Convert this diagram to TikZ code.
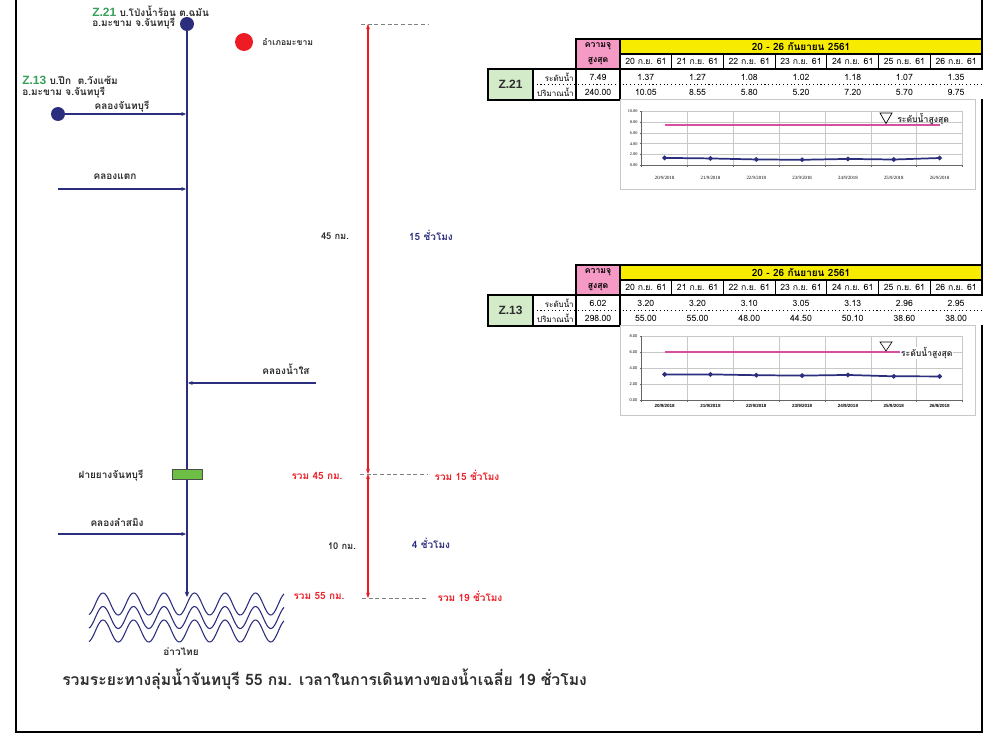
\documentclass[tikz,border=0pt]{standalone}
\usepackage{fontspec}
\setmainfont{Liberation Sans}
\newfontfamily\thai[Script=Thai]{Loma}
\newfontfamily\serifx{Liberation Serif}
\usetikzlibrary{arrows.meta,shapes.geometric}
\definecolor{navy}{RGB}{43,46,125}
\definecolor{rred}{RGB}{237,28,36}
\definecolor{zgreen}{RGB}{55,160,90}
\definecolor{weir}{RGB}{108,190,69}
\definecolor{pinkc}{RGB}{244,154,196}
\definecolor{yel}{RGB}{247,236,0}
\definecolor{lgreen}{RGB}{212,235,202}
\definecolor{mag}{RGB}{215,80,160}
\definecolor{txt}{RGB}{45,45,45}
\definecolor{gridc}{RGB}{200,200,200}
\begin{document}
\begin{tikzpicture}[x=0.75pt,y=-0.75pt,
  lbl/.style={font=\thai\bfseries\fontsize{7.5}{8}\selectfont,text=txt,inner sep=0},
  river/.style={draw=navy,line width=1.5pt,-{Stealth[length=4pt,width=3.5pt]}},
  trib/.style={draw=navy,line width=0.9pt,-{Stealth[length=3.5pt,width=3pt]}},
  dot/.style={circle,fill=navy,inner sep=0,minimum size=10.5pt},
  dist/.style={draw=rred,line width=0.8pt,{Stealth[length=4pt,width=3pt]}-{Stealth[length=4pt,width=3pt]}},
  gdash/.style={draw=gray,line width=0.6pt,dash pattern=on 3pt off 2pt},
  dtxt/.style={font=\thai\bfseries\fontsize{7}{8}\selectfont,text=txt,inner sep=0},
  ntxt/.style={font=\thai\bfseries\fontsize{7.5}{8}\selectfont,text=navy,inner sep=0},
  rtxt/.style={font=\thai\bfseries\fontsize{7.5}{8}\selectfont,text=rred,inner sep=0},
  tb/.style={draw=black,line width=1.5pt},
  tt/.style={font=\thai\fontsize{6.5}{7}\selectfont,inner sep=0},
  ttb/.style={font=\thai\bfseries\fontsize{6.5}{7}\selectfont,inner sep=0},
  grid/.style={draw=gridc,line width=0.4pt},
  axis/.style={draw=gray!80!black,line width=0.5pt},
  mk/.style={diamond,fill=navy,inner sep=0,minimum size=4pt},
  dline/.style={draw=navy,line width=1.3pt},
  capline/.style={draw=mag,line width=1pt}
]
\useasboundingbox (0,0) rectangle (988,734);
% frame
\draw[line width=1.5pt] (16,-5) -- (16,732) -- (982,732) -- (982,-5);

% river
\node[dot] (z21) at (187,24) {};
\coordinate (sea) at (187,597);
\draw[river] (z21) -- (sea);

\node[anchor=west,inner sep=0] (z21a) at (92,11) {\fontsize{9}{10}\selectfont\bfseries\color{zgreen}Z.21 \thai\fontsize{7.5}{8}\selectfont\color{txt}บ.โป่งน้ำร้อน ต.ฉมัน};
\node[lbl,anchor=west] (z21b) at (92,24) {อ.มะขาม จ.จันทบุรี};

\node[circle,fill=rred,inner sep=0,minimum size=13.5pt] (amp) at (244,42) {};
\node[lbl,anchor=west,font=\thai\bfseries\fontsize{6.5}{7}\selectfont] (ampl) at (262,42) {อำเภอมะขาม};

\node[anchor=west,inner sep=0] (z13a) at (22,80) {\fontsize{9}{10}\selectfont\bfseries\color{zgreen}Z.13 \thai\fontsize{7.5}{8}\selectfont\color{txt}บ.ปึก~~ต.วังแซ้ม};
\node[lbl,anchor=west] (z13b) at (22,93) {อ.มะขาม จ.จันทบุรี};

% tributaries
\node[dot] (z13) at (58,114) {};
\coordinate (j1) at (186,114);
\draw[trib] (z13) -- (j1);
\node[lbl] (l1) at (122,107) {คลองจันทบุรี};

\coordinate (k2s) at (58,189); \coordinate (k2e) at (186,189);
\draw[trib] (k2s) -- (k2e);
\node[lbl] (l2) at (115,177) {คลองแตก};

\coordinate (k3s) at (316,383); \coordinate (k3e) at (188,383);
\draw[trib] (k3s) -- (k3e);
\node[lbl] (l3) at (286,369) {คลองน้ำใส};

\coordinate (k4s) at (58,534); \coordinate (k4e) at (186,534);
\draw[trib] (k4s) -- (k4e);
\node[lbl] (l4) at (117,522) {คลองลำสมิง};

% weir
\node[draw=black!70,line width=0.6pt,fill=weir,minimum width=22.5pt,minimum height=8pt,inner sep=0] (weir) at (187,474.5) {};
\node[lbl] (wl) at (111,476) {ฝายยางจันทบุรี};

% sea waves
\foreach \c in {604,617.5,631}
  \draw[navy,line width=0.8pt,domain=89:284,samples=160,smooth] plot (\x,{\c-11*cos(11.803*(\x-103))});
\node[lbl] (gulf) at (181,652) {อ่าวไทย};

% distances
\coordinate (d0) at (368,24); \coordinate (d1) at (368,474); \coordinate (d2) at (368,598);
\draw[dist] (d1) -- (d0);
\draw[dist] (d1) -- (d2);
\coordinate (g0a) at (361,24); \coordinate (g0b) at (428,24);
\coordinate (g1a) at (360,474); \coordinate (g1b) at (428,474);
\coordinate (g2a) at (362,598); \coordinate (g2b) at (428,598);
\draw[gdash] (g0a) -- (g0b);
\draw[gdash] (g1a) -- (g1b);
\draw[gdash] (g2a) -- (g2b);

\node[dtxt] (t1) at (335,236) {45 กม.};
\node[ntxt] (t2) at (431,235) {15 ชั่วโมง};
\node[rtxt] (t3) at (317,476) {รวม 45 กม.};
\node[rtxt] (t4) at (467,475) {รวม 15 ชั่วโมง};
\node[dtxt] (t5) at (342,546) {10 กม.};
\node[ntxt] (t6) at (431,543) {4 ชั่วโมง};
\node[rtxt] (t7) at (319,596) {รวม 55 กม.};
\node[rtxt] (t8) at (470,596) {รวม 19 ชั่วโมง};

\node[inner sep=0,font=\thai\bfseries\fontsize{11.8}{13}\selectfont,text=txt,anchor=west] (total) at (62,679) {รวมระยะทางลุ่มน้ำจันทบุรี 55 กม. เวลาในการเดินทางของน้ำเฉลี่ย 19 ชั่วโมง};

% ---------- tables ----------
\newcommand\mktable[6]{%
\begin{scope}[shift={(0,#1)}]
  \fill[pinkc] (576,0) rectangle (620,30);
  \fill[yel] (620,0) rectangle (982,15);
  \fill[lgreen] (488,30) rectangle (533,61);
  \fill[white] (620,30) rectangle (988,60);
  \foreach \k in {1,...,6} \draw[black,line width=0.8pt] ({620+\k*51.71},15) -- ({620+\k*51.71},30);
  \draw[black,line width=0.8pt,dotted] (533,45.5) -- (982,45.5);
  \draw[tb] (576,0) rectangle (982,30);
  \draw[tb] (620,15) -- (982,15);
  \draw[tb] (620,0) -- (620,61);
  \draw[tb] (488,30) rectangle (533,61);
  \draw[tb] (533,30) rectangle (620,61);
  \draw[tb] (576,30) -- (576,61);
  \draw[tb] (533,30) -- (982,30);
  \node[ttb] at (598,7.5) {ความจุ};
  \node[ttb] at (598,22.5) {สูงสุด};
  \node[ttb,font=\thai\bfseries\fontsize{7.5}{8}\selectfont] at (801,7.5) {20 - 26 กันยายน 2561};
  \foreach \d [count=\i from 0] in {20,...,26}
    \node[tt] at ({645.86+\i*51.71},22.5) {\d\ ก.ย. 61};
  \node[inner sep=0,font=\bfseries\fontsize{9}{10}\selectfont,text=txt] at (510.5,45.5) {#2};
  \node[tt,anchor=east,font=\thai\fontsize{6}{7}\selectfont] at (574,38) {ระดับน้ำ};
  \node[tt,anchor=east,font=\thai\fontsize{6}{7}\selectfont] at (574,53) {ปริมาณน้ำ};
  \node[tt] at (598,38) {#3};
  \node[tt] at (598,53) {#4};
  \foreach \v [count=\i from 0] in {#5}
    \node[tt] at ({645.86+\i*51.71},38) {\v};
  \foreach \v [count=\i from 0] in {#6}
    \node[tt] at ({645.86+\i*51.71},53) {\v};
\end{scope}}

\mktable{39}{Z.21}{7.49}{240.00}{1.37,1.27,1.08,1.02,1.18,1.07,1.35}{10.05,8.55,5.80,5.20,7.20,5.70,9.75}
\mktable{265}{Z.13}{6.02}{298.00}{3.20,3.20,3.10,3.05,3.13,2.96,2.95}{55.00,55.00,48.00,44.50,50.10,38.60,38.00}

% ---------- charts ----------
\def\L{641.7}\def\R{962.5}\def\W{45.83}
% chart 1
\draw[gridc,line width=0.7pt] (620,99) rectangle (975,189);
\def\yz{165.3}\def\ys{5.4}
\foreach \v in {2,4,...,10} \draw[grid] (\L,{\yz-\v*\ys}) -- (\R,{\yz-\v*\ys});
\foreach \k in {1,...,7} \draw[grid] ({\L+\k*\W},{\yz-10*\ys}) -- ({\L+\k*\W},\yz);
\draw[axis] (\L,{\yz-10*\ys}) -- (\L,\yz) -- (\R,\yz);
\foreach \v/\t in {0/0.00,2/2.00,4/4.00,6/6.00,8/8.00,10/10.00} {
  \draw[axis] ({\L-2},{\yz-\v*\ys}) -- (\L,{\yz-\v*\ys});
  \node[inner sep=0,anchor=east,font=\serifx\fontsize{3.2}{3.5}\selectfont] at ({\L-4},{\yz-\v*\ys}) {\t};
}
\foreach \k in {0,...,7} \draw[axis] ({\L+\k*\W},\yz) -- ({\L+\k*\W},{\yz+2});
\foreach \d [count=\i from 0] in {20,...,26}
  \node[inner sep=0,font=\serifx\fontsize{3.6}{4}\selectfont] at ({\L+\W/2+\i*\W},177.7) {\d/9/2018};
\coordinate (ca0) at ({\L+\W/2},{\yz-7.49*\ys});
\coordinate (ca1) at ({\L+\W/2+6*\W},{\yz-7.49*\ys});
\draw[capline] (ca0) -- (ca1);
\foreach \v [count=\i from 0] in {1.37,1.27,1.08,1.02,1.18,1.07,1.35}
  \coordinate (pa\i) at ({\L+\W/2+\i*\W},{\yz-\v*\ys});
\draw[dline] (pa0)--(pa1)--(pa2)--(pa3)--(pa4)--(pa5)--(pa6);
\foreach \i in {0,...,6} \node[mk] at (pa\i) {};
\draw[line width=0.5pt] (880,113) -- (892,113) -- (886,123.5) -- cycle;
\node[lbl,anchor=west,font=\thai\bfseries\fontsize{6.5}{7}\selectfont] at (897,119) {ระดับน้ำสูงสุด};

% chart 2
\draw[gridc,line width=0.7pt] (620,325) rectangle (975,415);
\def\yz{400}\def\ys{8.0}
\foreach \v in {2,4,...,8} \draw[grid] (\L,{\yz-\v*\ys}) -- (\R,{\yz-\v*\ys});
\foreach \k in {1,...,7} \draw[grid] ({\L+\k*\W},{\yz-8*\ys}) -- ({\L+\k*\W},\yz);
\draw[axis] (\L,{\yz-8*\ys}) -- (\L,\yz) -- (\R,\yz);
\foreach \v/\t in {0/0.00,2/2.00,4/4.00,6/6.00,8/8.00} {
  \draw[axis] ({\L-2},{\yz-\v*\ys}) -- (\L,{\yz-\v*\ys});
  \node[inner sep=0,anchor=east,font=\fontsize{3}{3.5}\selectfont] at ({\L-4},{\yz-\v*\ys}) {\t};
}
\foreach \k in {0,...,7} \draw[axis] ({\L+\k*\W},\yz) -- ({\L+\k*\W},{\yz+2});
\foreach \d [count=\i from 0] in {20,...,26}
  \node[inner sep=0,font=\bfseries\fontsize{3.4}{4}\selectfont] at ({\L+\W/2+\i*\W},406) {\d/9/2018};
\coordinate (cb0) at ({\L+\W/2},{\yz-6.02*\ys});
\coordinate (cb1) at ({\L+\W/2+6*\W},{\yz-6.02*\ys});
\draw[capline] (cb0) -- (cb1);
\foreach \v [count=\i from 0] in {3.20,3.20,3.10,3.05,3.13,2.96,2.95}
  \coordinate (pb\i) at ({\L+\W/2+\i*\W},{\yz-\v*\ys});
\draw[dline] (pb0)--(pb1)--(pb2)--(pb3)--(pb4)--(pb5)--(pb6);
\foreach \i in {0,...,6} \node[mk] at (pb\i) {};
\draw[line width=0.5pt,fill=white] (880,342) -- (892,342) -- (886,351) -- cycle;
\node[lbl,anchor=west,fill=white,inner sep=0.5pt,font=\thai\bfseries\fontsize{6.5}{7}\selectfont] at (900,353) {ระดับน้ำสูงสุด};
\end{tikzpicture}
\end{document}
